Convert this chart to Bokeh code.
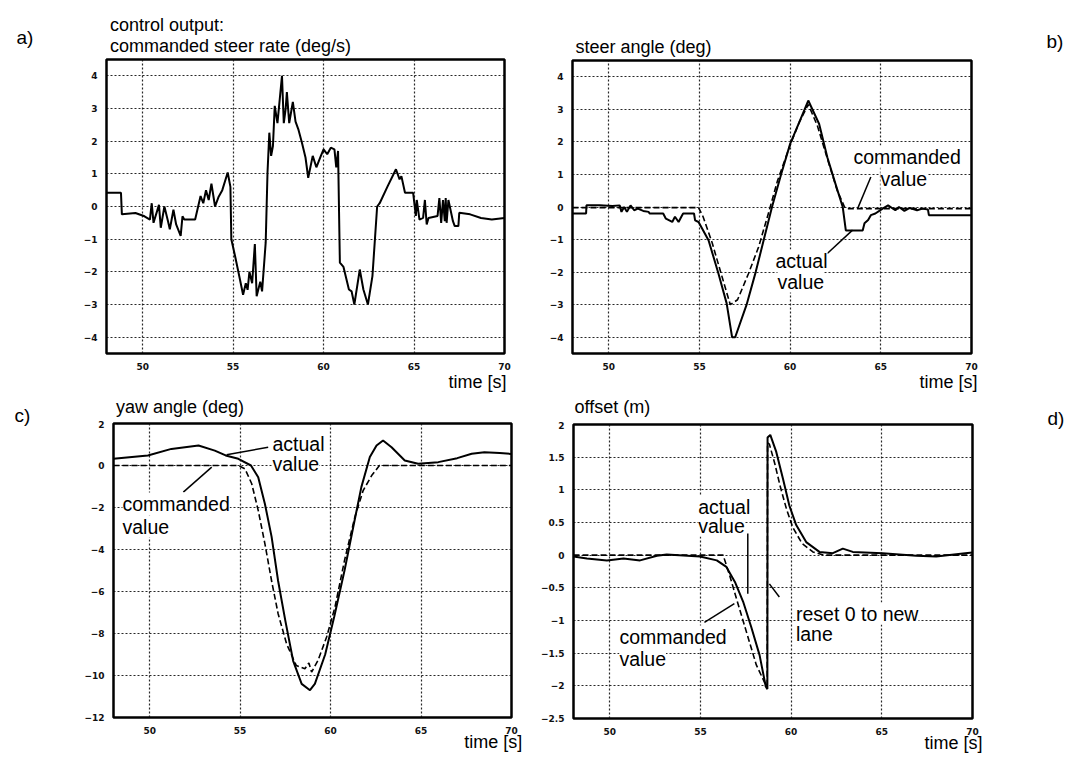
from bokeh.plotting import figure
from bokeh.models import Range1d, FixedTicker, Label, Title
from bokeh.layouts import column, row
from bokeh.embed import file_html
from bokeh.resources import INLINE

FONT = "Liberation Sans"
TICKFONT = "DejaVu Sans"

# ---------------- data ----------------
x_ticks = [50, 55, 60, 65, 70]
x_tick_labels = ["50", "55", "60", "65", "70"]

# a) commanded steer rate (deg/s)
a_t = [48.0, 48.8, 48.85, 49.6, 50.1, 50.4, 50.5, 50.6, 50.9, 51.0, 51.2, 51.4, 51.5, 51.7,
       51.85, 52.1, 52.2, 52.3, 52.9, 53.2, 53.35, 53.5, 53.65, 53.8, 54.0, 54.2, 54.4, 54.7,
       54.85, 54.9, 55.1, 55.3, 55.55, 55.7, 55.8, 55.9, 56.05, 56.2, 56.3, 56.5, 56.6, 56.8,
       56.9, 57.0, 57.1, 57.2, 57.3, 57.45, 57.7, 57.8, 57.9, 57.97, 58.1, 58.3, 58.45, 58.6,
       58.8, 59.0, 59.15, 59.4, 59.6, 59.85, 60.0, 60.2, 60.4, 60.6, 60.7, 60.8, 60.9, 61.1,
       61.4, 61.55, 61.7, 62.0, 62.2, 62.45, 62.7, 62.96, 63.1, 63.55, 64.0, 64.2, 64.3, 64.5,
       64.95, 65.1, 65.15, 65.3, 65.5, 65.6, 65.7, 65.8, 66.3, 66.4, 66.5, 66.6, 66.7, 66.75,
       66.8, 66.9, 67.15, 67.25, 67.45, 67.5, 68.1, 68.7, 69.3, 70.0]
a_rate = [0.42, 0.42, -0.24, -0.2, -0.3, -0.4, 0.1, -0.5, 0.05, -0.65, 0.0, -0.45, -0.7, -0.1,
          -0.55, -0.9, -0.3, -0.4, -0.4, 0.32, 0.1, 0.5, 0.2, 0.7, 0.0, 0.3, 0.5, 1.04,
          0.6, -1.0, -1.5, -2.03, -2.7, -2.35, -2.55, -2.0, -2.35, -1.15, -2.75, -2.3, -2.6, -1.1,
          1.04, 2.26, 1.55, 1.85, 3.08, 2.55, 4.0, 2.55, 2.97, 3.5, 2.55, 3.2, 2.6, 2.37,
          1.96, 1.5, 0.88, 1.55, 1.2, 1.55, 1.75, 1.6, 1.8, 1.75, 1.2, 1.7, -1.72, -1.85,
          -2.54, -2.6, -3.0, -1.93, -2.54, -3.0, -2.13, 0.0, 0.1, 0.63, 1.14, 0.83, 0.93, 0.42,
          0.42, -0.29, 0.2, -0.4, -0.35, 0.2, -0.55, -0.35, -0.29, 0.26, -0.5, 0.2, -0.45, 0.26,
          -0.5, 0.2, -0.45, -0.6, -0.6, -0.19, -0.24, -0.35, -0.4, -0.35]
a_y_ticks = [-4, -3, -2, -1, 0, 1, 2, 3, 4]
a_y_labels = ["\u22124", "\u22123", "\u22122", "\u22121", "0", "1", "2", "3", "4"]

# b) steer angle (deg)
b_t_act = [48.0, 48.75, 48.77, 49.5, 50.2, 50.6, 50.7, 50.85, 51.0, 51.2, 51.4, 51.6, 51.9, 52.2,
           52.25, 53.0, 53.15, 53.5, 53.65, 53.85, 54.0, 54.1, 54.7, 54.76, 54.95, 55.5, 56.05,
           56.5, 56.8, 56.97, 57.6, 58.1, 58.55, 59.0, 59.5, 60.0, 60.5, 61.0, 61.6, 62.05, 62.5,
           62.9, 63.07, 64.0, 64.1, 64.3, 64.45, 64.7, 65.1, 65.4, 65.8, 66.0, 66.3, 66.6, 67.0,
           67.3, 67.6, 67.65, 70.0]
b_act = [-0.2, -0.2, 0.05, 0.05, 0.03, 0.05, -0.15, 0.0, -0.15, 0.05, -0.1, -0.05, -0.12, -0.15,
         -0.2, -0.2, -0.36, -0.46, -0.3, -0.46, -0.3, -0.2, -0.2, -0.41, -0.46, -1.02, -2.05,
         -2.96, -4.0, -4.0, -3.0, -2.0, -1.0, 0.0, 1.0, 1.94, 2.6, 3.27, 2.55, 1.53, 0.71,
         0.0, -0.72, -0.72, -0.5, -0.4, -0.25, -0.2, -0.05, 0.05, -0.1, 0.0, -0.12, -0.03, -0.1,
         -0.05, -0.08, -0.25, -0.25]
b_t_cmd = [48.0, 54.95, 55.2, 55.7, 56.25, 56.7, 57.1, 57.7, 58.26, 58.8, 59.3, 60.0, 60.5, 61.0,
           61.5, 62.1, 62.6, 63.0, 63.1, 70.0]
b_cmd = [-0.02, -0.02, -0.3, -1.1, -2.15, -3.0, -2.85, -2.05, -1.23, -0.2, 0.8, 1.9, 2.6, 3.15,
         2.5, 1.4, 0.5, 0.0, -0.05, -0.05]
b_y_ticks = a_y_ticks
b_y_labels = a_y_labels

# c) yaw angle (deg)
c_t_act = [48.0, 49.9, 51.2, 52.7, 53.6, 54.2, 54.9, 55.6, 56.0, 56.37, 56.74, 57.1, 57.5, 57.93,
           58.4, 58.86, 59.13, 59.7, 60.2, 60.77, 61.25, 61.7, 62.17, 62.54, 62.9, 63.37, 64.1,
           64.84, 65.95, 67.0, 67.8, 68.5, 69.35, 70.0]
c_act = [0.32, 0.48, 0.79, 0.95, 0.71, 0.48, 0.32, 0.0, -0.56, -1.83, -3.4, -5.5, -7.4, -9.3,
         -10.4, -10.7, -10.4, -9.0, -7.2, -5.0, -2.94, -1.03, 0.4, 0.95, 1.19, 0.87, 0.24,
         0.08, 0.16, 0.35, 0.56, 0.63, 0.6, 0.55]
c_t_cmd = [48.0, 54.9, 55.27, 55.64, 56.0, 56.37, 56.74, 57.1, 57.57, 58.1, 58.58, 58.8, 58.95,
           59.3, 59.78, 60.24, 60.77, 61.34, 61.8, 62.27, 62.7, 70.0]
c_cmd = [0.0, 0.0, -0.16, -0.87, -2.14, -3.73, -5.5, -7.06, -8.5, -9.52, -9.68, -9.4, -9.84,
         -9.29, -8.17, -6.75, -4.52, -2.46, -1.19, -0.48, 0.0, 0.0]
c_y_ticks = [-12, -10, -8, -6, -4, -2, 0, 2]
c_y_labels = ["\u221212", "\u221210", "\u22128", "\u22126", "\u22124", "\u22122", "0", "2"]

# d) offset (m)
d_t_act = [48.0, 48.74, 49.84, 50.76, 51.67, 52.6, 53.14, 54.97, 55.9, 56.43, 56.9, 57.35, 57.8,
           58.26, 58.6, 58.69, 58.7, 58.85, 59.18, 59.55, 59.9, 60.28, 60.83, 61.56, 62.3, 62.85,
           63.4, 65.04, 66.9, 68.0, 69.6, 70.0]
d_act = [-0.02, -0.05, -0.08, -0.05, -0.08, -0.01, 0.01, -0.02, -0.08, -0.18, -0.41, -0.71, -1.1,
         -1.53, -2.01, -2.05, 1.8, 1.84, 1.58, 1.17, 0.76, 0.46, 0.2, 0.05, 0.03, 0.1,
         0.05, 0.03, -0.01, -0.02, 0.03, 0.04]
d_t_cmd = [48.0, 56.25, 56.6, 56.98, 57.53, 58.08, 58.54, 58.68, 58.7, 58.8, 59.1, 59.4, 59.75,
           60.1, 60.6, 61.2, 61.8, 70.0]
d_cmd = [0.0, 0.0, -0.3, -0.66, -1.17, -1.68, -1.95, -2.0, 1.72, 1.7, 1.4, 1.05, 0.7, 0.42,
         0.18, 0.05, 0.0, 0.0]
d_y_ticks = [-2.5, -2, -1.5, -1, -0.5, 0, 0.5, 1, 1.5, 2]
d_y_labels = ["\u22122.5", "\u22122", "\u22121.5", "\u22121", "\u22120.5", "0", "0.5", "1", "1.5", "2"]

# pointer (leader) lines of the annotations, in data units: (x0, y0, x1, y1)
b_pointers = [(64.45, 0.92, 63.72, -0.05), (62.05, -1.43, 63.44, -0.71)]
c_pointers = [(56.55, 0.87, 54.25, 0.51), (51.86, -1.27, 53.43, -0.08)]
d_pointers = [(57.61, 0.33, 57.61, -0.59), (55.22, -1.03, 56.87, -0.74), (58.8, -0.44, 59.35, -0.64)]


# ---------------- helpers ----------------
class Geom:
    def __init__(self, pl, pt, w, h, bl, br, bt, bb, xr, yr):
        self.pl, self.pt, self.w, self.h = pl, pt, w, h
        self.bl, self.br, self.bt, self.bb = bl, br, bt, bb
        self.xr, self.yr = xr, yr
        self.fl = pl + bl
        self.fr = pl + w - br
        self.ft = pt + bt
        self.fb = pt + h - bb

    def data(self, px, py):
        x = self.xr[0] + (px - self.fl) / (self.fr - self.fl) * (self.xr[1] - self.xr[0])
        y = self.yr[1] - (py - self.ft) / (self.fb - self.ft) * (self.yr[1] - self.yr[0])
        return x, y


def make_fig(g, yticks, ylabels, xlabel_offset, xlabel_standoff):
    p = figure(width=g.w, height=g.h, x_range=Range1d(*g.xr), y_range=Range1d(*g.yr),
               output_backend="svg", toolbar_location=None, title=None,
               min_border_left=g.bl, min_border_right=g.br,
               min_border_top=g.bt, min_border_bottom=g.bb)
    p.background_fill_color = "white"
    p.border_fill_color = "white"
    p.outline_line_color = "black"
    p.outline_line_width = 2.5
    p.xaxis.ticker = FixedTicker(ticks=x_ticks)
    p.xaxis.major_label_overrides = dict(zip(x_ticks, x_tick_labels))
    p.yaxis.ticker = FixedTicker(ticks=yticks)
    p.yaxis.major_label_overrides = dict(zip(yticks, ylabels))
    for ax in (p.xaxis[0], p.yaxis[0]):
        ax.axis_line_color = None
        ax.major_tick_line_color = None
        ax.minor_tick_line_color = None
        ax.major_label_text_font = TICKFONT
        ax.major_label_text_font_size = "9px"
        ax.major_label_text_font_style = "bold"
        ax.major_label_text_color = "#111111"
    p.yaxis.major_label_standoff = 3
    p.xaxis.major_label_standoff = 3
    p.xgrid.ticker = FixedTicker(ticks=x_ticks)
    p.ygrid.ticker = FixedTicker(ticks=yticks)
    for gr in (p.xgrid[0], p.ygrid[0]):
        gr.grid_line_color = "#111111"
        gr.grid_line_dash = "2 2"
        gr.grid_line_width = 1.2
        gr.grid_line_alpha = 0.9
    # "time [s]" below the axis, at the right end of the frame
    t = Title(text="time [s]", align="right", offset=xlabel_offset, text_font=FONT,
              text_font_size="18px", text_font_style="normal", text_color="black")
    if hasattr(t, "standoff"):
        t.standoff = xlabel_standoff
    p.add_layout(t, "below")
    return p


def text_fig(w, h, xr, items):
    """A frame-only strip (no axes) holding texts; x in page pixels, y in its own pixels."""
    p = figure(width=w, height=h, x_range=Range1d(*xr), y_range=Range1d(h, 0),
               x_axis_type=None, y_axis_type=None, output_backend="svg",
               toolbar_location=None, title=None, min_border=0)
    p.min_border_left = p.min_border_right = p.min_border_top = p.min_border_bottom = 0
    p.outline_line_color = None
    p.background_fill_color = "white"
    p.border_fill_color = "white"
    for x, y, s, size in items:
        p.add_layout(Label(x=x, y=y, text=s, text_font=FONT, text_font_size=size,
                           text_align="left", text_baseline="alphabetic", text_color="black"))
    return p


NOTE_SHIFT = 7  # rendered notes sit lower than their nominal baseline


def note(p, g, px, py, s, size="19.5px"):
    x, y = g.data(px, py - NOTE_SHIFT)
    p.add_layout(Label(x=x, y=y, text=s, text_font=FONT, text_font_size=size,
                       text_align="left", text_baseline="alphabetic", text_color="black",
                       background_fill_color="white"))


def pointers(p, segs):
    for x0, y0, x1, y1 in segs:
        p.line([x0, x1], [y0, y1], line_color="black", line_width=1.5)


# ---------------- geometry (page pixels) ----------------
ROW1 = 392
ga = Geom(40, 56, 498, ROW1 - 56, 66, 34, 3, ROW1 - 56 - 297, (48, 70), (-4.5, 4.5))
gb = Geom(538, 57, 502, ROW1 - 57, 34, 69, 3, ROW1 - 57 - 296, (48, 70), (-4.5, 4.5))
gc = Geom(40, 420, 498, 340, 73, 27, 3, 43, (48, 70), (-12, 2))
gd = Geom(538, 421, 502, 339, 34, 68, 3, 42, (48, 70), (-2.5, 2))

# a)
pa = make_fig(ga, a_y_ticks, a_y_labels, -2, -5)
pa.line(a_t, a_rate, line_color="black", line_width=2)
head_a = text_fig(498, 56, (ga.fl, ga.fr), [(109.5, 24, "control output:", "18px"),
                                            (109.5, 45, "commanded steer rate (deg/s)", "18px")])
lett_a = text_fig(40, ROW1, (0, 40), [(16, 37, "a)", "19px")])

# b)
pb = make_fig(gb, b_y_ticks, b_y_labels, -6, -5)
pb.line(b_t_cmd, b_cmd, line_color="black", line_width=1.6, line_dash="6 3")
pb.line(b_t_act, b_act, line_color="black", line_width=2)
pointers(pb, b_pointers)
note(pb, gb, 853, 163, "commanded")
note(pb, gb, 880, 185, "value")
note(pb, gb, 775, 267, "actual")
note(pb, gb, 777, 288, "value")
head_b = text_fig(502, 57, (gb.fl, gb.fr), [(575, 46, "steer angle (deg)", "18px")])
lett_b = text_fig(29, ROW1, (1040, 1069), [(1046, 41, "b)", "19px")])

# c)
pc = make_fig(gc, c_y_ticks, c_y_labels, -10.7, -14)
pc.line(c_t_cmd, c_cmd, line_color="black", line_width=1.6, line_dash="6 3")
pc.line(c_t_act, c_act, line_color="black", line_width=2)
pointers(pc, c_pointers)
note(pc, gc, 272, 450, "actual")
note(pc, gc, 272, 470, "value")
note(pc, gc, 122, 510, "commanded")
note(pc, gc, 122, 533, "value")
head_c = text_fig(498, 420 - ROW1, (gc.fl, gc.fr), [(115.5, 406 - ROW1, "yaw angle (deg)", "18px")])
lett_c = text_fig(40, 760 - ROW1, (0, 40), [(14, 415 - ROW1, "c)", "19px")])

# d)
pd_ = make_fig(gd, d_y_ticks, d_y_labels, -10, -14)
pd_.line(d_t_cmd, d_cmd, line_color="black", line_width=1.6, line_dash="6 3")
pd_.line(d_t_act, d_act, line_color="black", line_width=2)
pointers(pd_, d_pointers)
note(pd_, gd, 697, 513, "actual")
note(pd_, gd, 697, 532, "value")
note(pd_, gd, 618, 643, "commanded")
note(pd_, gd, 618, 665, "value")
note(pd_, gd, 795, 620, "reset 0 to new")
note(pd_, gd, 795, 640, "lane")
head_d = text_fig(502, 421 - ROW1, (gd.fl, gd.fr), [(573, 406 - ROW1, "offset (m)", "18px")])
lett_d = text_fig(29, 760 - ROW1, (1040, 1069), [(1047, 418 - ROW1, "d)", "19px")])

layout = column(
    row(lett_a, column(head_a, pa), column(head_b, pb), lett_b),
    row(lett_c, column(head_c, pc), column(head_d, pd_), lett_d),
)
open("out.html", "w").write(file_html(layout, INLINE))
